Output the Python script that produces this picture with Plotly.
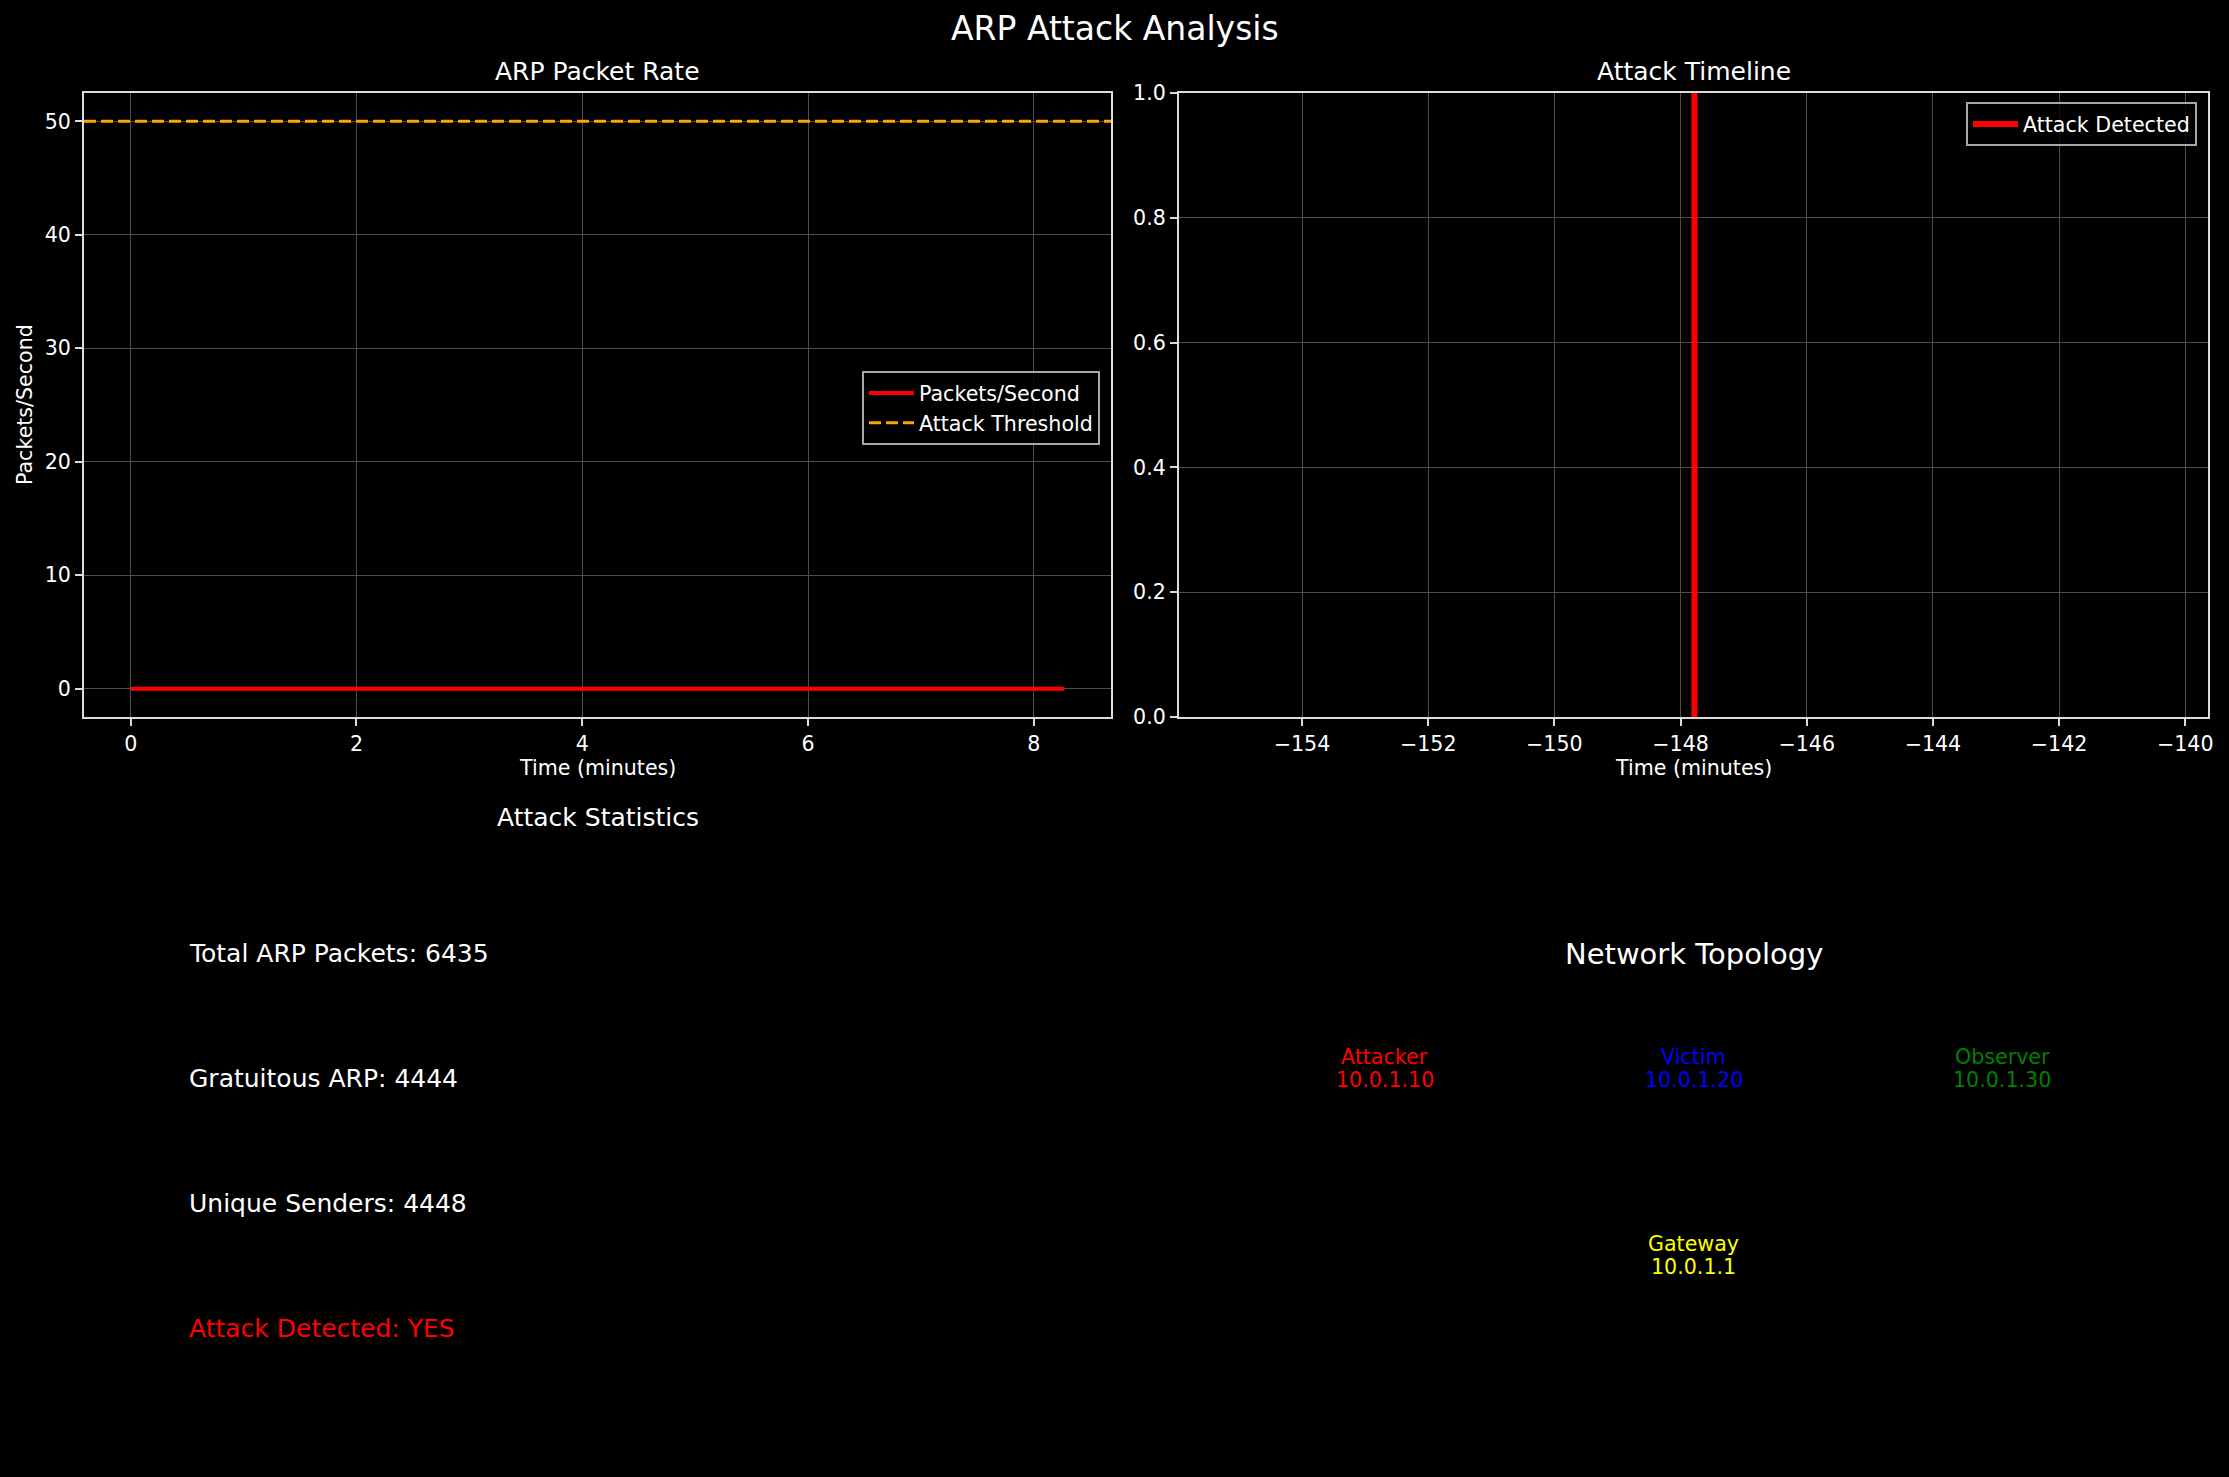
import plotly.graph_objects as go

# ---------------- data ----------------
time_minutes = [0.0, 1.0, 2.0, 3.0, 4.0, 5.0, 6.0, 7.0, 8.0, 8.27]
packets_per_second = [0, 0, 0, 0, 0, 0, 0, 0, 0, 0]
attack_threshold = 50
attack_time = -147.78
timeline_xrange = [-155.95, -139.64]

stat_labels = ["Total ARP Packets", "Gratuitous ARP", "Unique Senders", "Attack Detected"]
stat_values = ["6435", "4444", "4448", "YES"]
stat_colors = ["white", "white", "white", "red"]
stat_y = [0.8, 0.6, 0.4, 0.2]

node_names = ["Attacker", "Victim", "Observer", "Gateway"]
node_ips = ["10.0.1.10", "10.0.1.20", "10.0.1.30", "10.0.1.1"]
node_x = [0.2, 0.5, 0.8, 0.5]
node_y = [0.6, 0.6, 0.6, 0.3]
node_colors = ["red", "blue", "green", "yellow"]

# ---------------- layout helpers ----------------
W, H = 2229, 1477
FONT = "DejaVu Sans"


def fx(px):
    return px / W


def fy(py):
    return 1 - py / H


TL = dict(x=[fx(84), fx(1111)], y=[fy(717), fy(93)])
TR = dict(x=[fx(1179), fx(2208)], y=[fy(717), fy(93)])
BL = dict(x=[fx(84), fx(1111)], y=[fy(1453), fy(829)])
BR = dict(x=[fx(1179), fx(2208)], y=[fy(1453), fy(829)])

fig = go.Figure()

fig.add_trace(go.Scatter(
    x=time_minutes, y=packets_per_second, mode="lines", name="Packets/Second",
    line=dict(color="red", width=4), xaxis="x", yaxis="y", legend="legend",
    legendrank=1,
))

fig.add_shape(type="line", xref="x domain", yref="y", x0=0, x1=1,
              y0=attack_threshold, y1=attack_threshold,
              line=dict(color="orange", width=3, dash="12px,5px"),
              showlegend=True, name="Attack Threshold", legend="legend",
              legendrank=2)

fig.add_shape(type="line", xref="x2", yref="y2 domain", x0=attack_time, x1=attack_time,
              y0=0, y1=1, line=dict(color="red", width=6),
              showlegend=True, name="Attack Detected", legend="legend2")

# x/y range for left plot from data (5% margins, like matplotlib autoscale)
xmin, xmax = min(time_minutes), max(time_minutes)
xpad = 0.05 * (xmax - xmin)
ymin = min(min(packets_per_second), attack_threshold)
ymax = max(max(packets_per_second), attack_threshold)
ypad = 0.05 * (ymax - ymin)

axis_common = dict(
    automargin=False,
    showline=True, mirror=True, linecolor="#dcdcdc", linewidth=2,
    showgrid=True, gridcolor="#4d4d4d", gridwidth=1.3, zeroline=False,
    ticks="outside", ticklen=7, tickwidth=1.6, tickcolor="#dcdcdc",
    tickfont=dict(family=FONT, size=20.6, color="white"),
)
hidden = dict(range=[0, 1], visible=False, automargin=False)

fig.update_layout(
    width=W, height=H,
    margin=dict(l=0, r=0, t=0, b=0, pad=0, autoexpand=False),
    paper_bgcolor="black", plot_bgcolor="black",
    font=dict(family=FONT, color="white"),
    xaxis=dict(domain=TL["x"], anchor="y", range=[xmin - xpad, xmax + xpad],
               dtick=2, tick0=0, **axis_common),
    yaxis=dict(domain=TL["y"], anchor="x", range=[ymin - ypad, ymax + ypad],
               dtick=10, tick0=0, **axis_common),
    xaxis2=dict(domain=TR["x"], anchor="y2", range=timeline_xrange,
                dtick=2, tick0=0, **axis_common),
    yaxis2=dict(domain=TR["y"], anchor="x2", range=[0, 1], dtick=0.2, tick0=0,
                tickformat=".1f", **axis_common),
    xaxis3=dict(domain=BL["x"], anchor="y3", **hidden),
    yaxis3=dict(domain=BL["y"], anchor="x3", **hidden),
    xaxis4=dict(domain=BR["x"], anchor="y4", **hidden),
    yaxis4=dict(domain=BR["y"], anchor="x4", **hidden),
    legend=dict(x=fx(1100), y=fy(371), xanchor="right", yanchor="top",
                bgcolor="rgba(0,0,0,0.8)", bordercolor="#a6a6a6", borderwidth=2,
                font=dict(family=FONT, size=20.6, color="white"),
                tracegroupgap=0, itemwidth=45),
    legend2=dict(x=fx(2197), y=fy(102), xanchor="right", yanchor="top",
                 bgcolor="rgba(0,0,0,0.8)", bordercolor="#a6a6a6", borderwidth=2,
                 font=dict(family=FONT, size=20.6, color="white"), itemwidth=45),
)

ann = []


def paper_text(text, x_px, y_px, size, color="white", angle=0):
    ann.append(dict(text=text, xref="paper", yref="paper", x=fx(x_px), y=fy(y_px),
                    xanchor="center", yanchor="middle", showarrow=False,
                    textangle=angle, font=dict(family=FONT, size=size, color=color)))


paper_text("ARP Attack Analysis", 1114.5, 29, 33)
paper_text("ARP Packet Rate", 597.5, 72, 25)
paper_text("Attack Timeline", 1693.5, 72, 25)
paper_text("Time (minutes)", 597.5, 768, 20.6)
paper_text("Time (minutes)", 1693.5, 768, 20.6)
paper_text("Packets/Second", 25, 405, 20.6, angle=-90)
paper_text("Attack Statistics", 597.5, 817, 25)

for lab, val, col, yv in zip(stat_labels, stat_values, stat_colors, stat_y):
    ann.append(dict(text=f"{lab}: {val}", xref="x3", yref="y3", x=0.1, y=yv,
                    xanchor="left", yanchor="middle", showarrow=False,
                    font=dict(family=FONT, size=25, color=col)))

ann.append(dict(text="Network Topology", xref="x4", yref="y4", x=0.5, y=0.8,
                xanchor="center", yanchor="middle", showarrow=False,
                font=dict(family=FONT, size=29, color="white")))

for name, ip, xv, yv, col in zip(node_names, node_ips, node_x, node_y, node_colors):
    ann.append(dict(text=name, xref="x4", yref="y4", x=xv, y=yv, yshift=21.5,
                    xanchor="center", yanchor="middle", showarrow=False,
                    font=dict(family=FONT, size=20.6, color=col)))
    ann.append(dict(text=ip, xref="x4", yref="y4", x=xv, y=yv, yshift=-1.5,
                    xanchor="center", yanchor="middle", showarrow=False,
                    font=dict(family=FONT, size=20.6, color=col)))

fig.update_layout(annotations=ann)

fig.write_html("out.html")
